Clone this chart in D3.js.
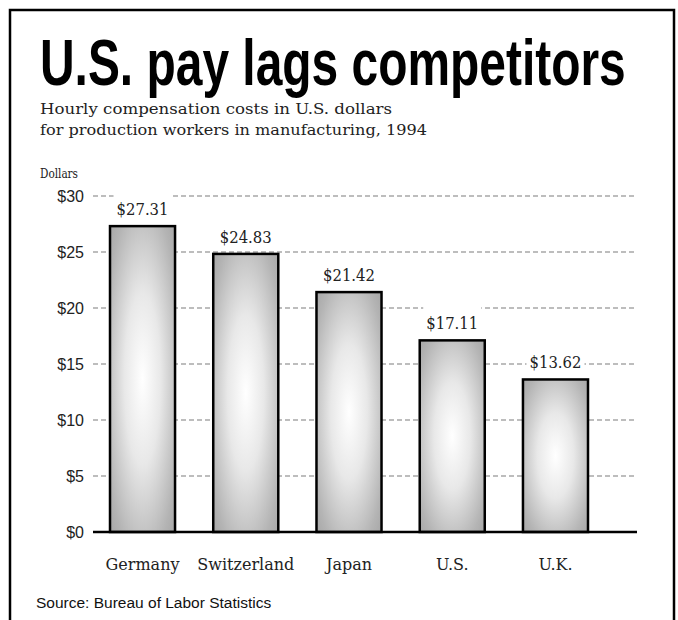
<!DOCTYPE html>
<html>
<head>
<meta charset="utf-8">
<script src="https://cdn.jsdelivr.net/npm/d3@7"></script>
<style>
  html, body { margin: 0; padding: 0; background: #fff; }
  svg { display: block; }
</style>
</head>
<body>
<script>
// Hourly compensation costs, production workers in manufacturing, 1994
const countries = ["Germany", "Switzerland", "Japan", "U.S.", "U.K."];
const hourlyCost = [27.31, 24.83, 21.42, 17.11, 13.62];
const tickValues = [0, 5, 10, 15, 20, 25, 30];
const tickLabels = ["$0", "$5", "$10", "$15", "$20", "$25", "$30"];
const valueLabels = ["$27.31", "$24.83", "$21.42", "$17.11", "$13.62"];

const W = 678, H = 620;
const svg = d3.select("body").append("svg").attr("width", W).attr("height", H);

const slab = "'DejaVu Serif', 'Liberation Serif', serif";
const sans = "'Liberation Sans', Arial, sans-serif";

// outer frame
svg.append("rect")
  .attr("x", 10).attr("y", 10).attr("width", 664).attr("height", 640)
  .attr("fill", "#fff").attr("stroke", "#000").attr("stroke-width", 2.5);

// headline: a bold sans squeezed horizontally into a condensed look
const headW = 586;
const head = svg.append("text")
  .attr("x", 0).attr("y", 0)
  .style("font-family", sans)
  .style("font-weight", "bold")
  .style("font-size", "64px")
  .attr("fill", "#000")
  .text("U.S. pay lags competitors");
const natural = head.node().getComputedTextLength();
head.attr("transform", `translate(40,85) scale(${headW / natural},1)`);

// subtitle
const sub = [
  { t: "Hourly compensation costs in U.S. dollars", y: 114, w: 352 },
  { t: "for production workers in manufacturing, 1994", y: 135, w: 387 }
];
svg.selectAll("text.sub").data(sub).join("text")
  .attr("class", "sub")
  .attr("x", 40).attr("y", d => d.y)
  .attr("textLength", d => d.w).attr("lengthAdjust", "spacingAndGlyphs")
  .style("font-family", slab).style("font-size", "14.5px")
  .attr("fill", "#222")
  .text(d => d.t);

svg.append("text")
  .attr("x", 40).attr("y", 178)
  .attr("textLength", 38).attr("lengthAdjust", "spacingAndGlyphs")
  .style("font-family", slab).style("font-size", "12px")
  .attr("fill", "#222")
  .text("Dollars");

// scales
const y = d3.scaleLinear().domain([0, 30]).range([532, 196]);
const x = d3.scaleBand().domain(countries).range([110, 588]).paddingInner(0.37).paddingOuter(0);
const gridX0 = 93, gridX1 = 637;

// dashed gridlines
svg.append("g").selectAll("line").data(tickValues.filter(v => v > 0)).join("line")
  .attr("x1", gridX0).attr("x2", gridX1)
  .attr("y1", d => y(d)).attr("y2", d => y(d))
  .attr("stroke", "#a8a8a8").attr("stroke-width", 1.4)
  .attr("stroke-dasharray", "5,3");

// y axis labels
const yAxis = d3.axisLeft(y).tickValues(tickValues)
  .tickFormat((d, i) => tickLabels[i]).tickSize(0).tickPadding(0);
const gy = svg.append("g").attr("transform", "translate(84,0)").call(yAxis);
gy.select(".domain").remove();
gy.selectAll("text")
  .style("font-family", sans).style("font-size", "16px").attr("fill", "#222");

// bar shading
const defs = svg.append("defs");
const grad = defs.append("radialGradient").attr("id", "barShade")
  .attr("cx", 0.5).attr("cy", 0.5).attr("r", 0.7);
grad.append("stop").attr("offset", 0).attr("stop-color", "#ffffff");
grad.append("stop").attr("offset", 0.4).attr("stop-color", "#e8e8e8");
grad.append("stop").attr("offset", 0.85).attr("stop-color", "#b4b4b4");
grad.append("stop").attr("offset", 1).attr("stop-color", "#a8a8a8");

const data = countries.map((c, i) => ({ c, v: hourlyCost[i], label: valueLabels[i] }));

svg.append("g").selectAll("rect").data(data).join("rect")
  .attr("x", d => x(d.c))
  .attr("y", d => y(d.v))
  .attr("width", x.bandwidth())
  .attr("height", d => y(0) - y(d.v))
  .attr("fill", "url(#barShade)")
  .attr("stroke", "#000").attr("stroke-width", 2.5);

// baseline
svg.append("line")
  .attr("x1", gridX0).attr("x2", gridX1)
  .attr("y1", y(0)).attr("y2", y(0))
  .attr("stroke", "#000").attr("stroke-width", 2.5);

// value labels on white plates
const lab = svg.append("g").selectAll("g").data(data).join("g");
lab.append("rect")
  .attr("x", d => x(d.c) + x.bandwidth() / 2 - 29)
  .attr("y", d => y(d.v) - 11 - 23)
  .attr("width", 58).attr("height", 27)
  .attr("fill", "#fff");
lab.append("text")
  .attr("x", d => x(d.c) + x.bandwidth() / 2)
  .attr("y", d => y(d.v) - 11)
  .attr("text-anchor", "middle")
  .attr("textLength", 52).attr("lengthAdjust", "spacingAndGlyphs")
  .style("font-family", slab).style("font-size", "17px")
  .attr("fill", "#222")
  .text(d => d.label);

// category labels
const xAxis = d3.axisBottom(x).tickSize(0).tickPadding(0);
const gx = svg.append("g").attr("transform", "translate(0,570)").call(xAxis);
gx.select(".domain").remove();
gx.selectAll("text")
  .attr("dy", 0)
  .style("font-family", slab).style("font-size", "16px").attr("fill", "#222");

// source
svg.append("text")
  .attr("x", 36).attr("y", 608)
  .style("font-family", sans).style("font-size", "15.5px")
  .attr("fill", "#111")
  .text("Source: Bureau of Labor Statistics");
</script>
</body>
</html>
